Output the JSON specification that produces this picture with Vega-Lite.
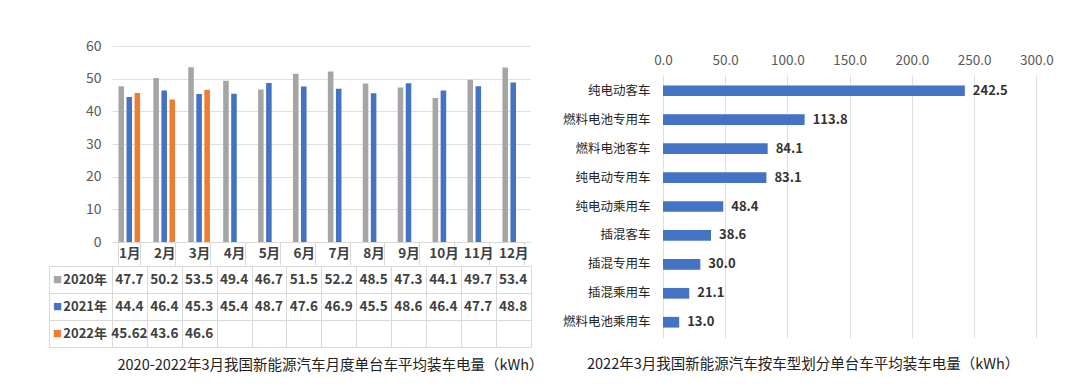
{
  "$schema": "https://vega.github.io/schema/vega-lite/v6.json",
  "background": "white",
  "padding": {"left": 48, "top": 39, "right": 0, "bottom": 0},
  "spacing": 10,
  "config": {
    "view": {"stroke": null},
    "font": "Noto Sans CJK SC",
    "axis": {"labelFont": "Noto Sans CJK SC", "titleFont": "Noto Sans CJK SC"},
    "title": {"font": "Noto Sans CJK SC"}
  },
  "datasets": {
    "monthly": [
      {"month": "1月", "year": "2020年", "value": 47.7},
      {"month": "2月", "year": "2020年", "value": 50.2},
      {"month": "3月", "year": "2020年", "value": 53.5},
      {"month": "4月", "year": "2020年", "value": 49.4},
      {"month": "5月", "year": "2020年", "value": 46.7},
      {"month": "6月", "year": "2020年", "value": 51.5},
      {"month": "7月", "year": "2020年", "value": 52.2},
      {"month": "8月", "year": "2020年", "value": 48.5},
      {"month": "9月", "year": "2020年", "value": 47.3},
      {"month": "10月", "year": "2020年", "value": 44.1},
      {"month": "11月", "year": "2020年", "value": 49.7},
      {"month": "12月", "year": "2020年", "value": 53.4},
      {"month": "1月", "year": "2021年", "value": 44.4},
      {"month": "2月", "year": "2021年", "value": 46.4},
      {"month": "3月", "year": "2021年", "value": 45.3},
      {"month": "4月", "year": "2021年", "value": 45.4},
      {"month": "5月", "year": "2021年", "value": 48.7},
      {"month": "6月", "year": "2021年", "value": 47.6},
      {"month": "7月", "year": "2021年", "value": 46.9},
      {"month": "8月", "year": "2021年", "value": 45.5},
      {"month": "9月", "year": "2021年", "value": 48.6},
      {"month": "10月", "year": "2021年", "value": 46.4},
      {"month": "11月", "year": "2021年", "value": 47.7},
      {"month": "12月", "year": "2021年", "value": 48.8},
      {"month": "1月", "year": "2022年", "value": 45.62},
      {"month": "2月", "year": "2022年", "value": 43.6},
      {"month": "3月", "year": "2022年", "value": 46.6}
    ],
    "bytype": [
      {"type": "纯电动客车", "value": 242.5},
      {"type": "燃料电池专用车", "value": 113.8},
      {"type": "燃料电池客车", "value": 84.1},
      {"type": "纯电动专用车", "value": 83.1},
      {"type": "纯电动乘用车", "value": 48.4},
      {"type": "插混客车", "value": 38.6},
      {"type": "插混专用车", "value": 30.0},
      {"type": "插混乘用车", "value": 21.1},
      {"type": "燃料电池乘用车", "value": 13.0}
    ]
  },
  "hconcat": [
    {
      "spacing": -7.5,
      "vconcat": [
        {
          "width": 418.5,
          "height": 196,
          "data": {"name": "monthly"},
          "mark": {"type": "bar"},
          "encoding": {
            "x": {
              "field": "month", "type": "nominal",
              "sort": ["1月","2月","3月","4月","5月","6月","7月","8月","9月","10月","11月","12月"],
              "scale": {"paddingInner": 0.38, "paddingOuter": 0.185},
              "axis": {
                "title": null, "labelAngle": 0, "domain": true, "domainColor": "#D9D9D9",
                "ticks": true, "tickBand": "extent", "tickSize": 23, "tickColor": "#D9D9D9",
                "labelPadding": -18.5, "labelFontSize": 13.5, "labelFontWeight": "bold", "labelColor": "#404040",
                "minExtent": 15.5, "maxExtent": 15.5
              }
            },
            "xOffset": {
              "field": "year", "type": "nominal",
              "sort": ["2020年","2021年","2022年"],
              "scale": {"domain": ["2020年","2021年","2022年"], "paddingInner": 0.31}
            },
            "y": {
              "field": "value", "type": "quantitative",
              "scale": {"domain": [0, 60], "nice": false},
              "axis": {
                "title": null, "values": [0,10,20,30,40,50,60], "grid": true, "gridColor": "#DDE1E6",
                "domain": false, "ticks": false, "labelPadding": 11, "labelFontSize": 14,
                "labelColor": "#595959", "minExtent": 63, "maxExtent": 63
              }
            },
            "color": {
              "field": "year", "type": "nominal",
              "scale": {"domain": ["2020年","2021年","2022年"], "range": ["#A5A5A5","#4472C4","#ED7D31"]},
              "legend": null
            }
          }
        },
        {
          "width": 418.5,
          "height": 81,
          "data": {"name": "monthly"},
          "layer": [
            {
              "mark": {"type": "text", "fontSize": 13.5, "fontWeight": "bold", "color": "#404040"},
              "encoding": {
                "x": {
                  "field": "month", "type": "nominal",
                  "sort": ["1月","2月","3月","4月","5月","6月","7月","8月","9月","10月","11月","12月"],
                  "scale": {"paddingInner": 0, "paddingOuter": 0},
                  "axis": {
                    "labels": false, "ticks": false, "domain": false, "grid": true, "tickBand": "extent",
                    "gridColor": "#D9D9D9",
                    "title": "2020-2022年3月我国新能源汽车月度单台车平均装车电量（kWh）",
                    "titlePadding": 11, "titleFontSize": 14.5, "titleFontWeight": "normal", "titleColor": "#222222",
                    "titleX": 218
                  }
                },
                "y": {
                  "field": "year", "type": "nominal",
                  "sort": ["2020年","2021年","2022年"],
                  "scale": {"domain": ["2020年","2021年","2022年"], "paddingInner": 0, "paddingOuter": 0},
                  "axis": {
                    "title": null, "grid": true, "tickBand": "extent", "gridColor": "#D9D9D9",
                    "domain": false, "ticks": true, "tickSize": 63, "tickColor": "#D9D9D9",
                    "labelPadding": -57.5, "labelAlign": "right", "labelFontSize": 13, "labelFontWeight": "bold",
                    "labelColor": "#404040", "minExtent": 63, "maxExtent": 63
                  }
                },
                "text": {"field": "value", "type": "quantitative"}
              }
            },
            {
              "mark": {"type": "text", "text": ""},
              "encoding": {
                "y": {
                  "field": "year", "type": "nominal",
                  "sort": ["2020年","2021年","2022年"],
                  "axis": {
                    "orient": "left", "title": null, "offset": 63, "domain": true, "domainColor": "#D9D9D9",
                    "ticks": false, "grid": false, "labelExpr": "'■'",
                    "labelColor": {
                      "condition": [
                        {"test": "datum.value === '2020年'", "value": "#A5A5A5"},
                        {"test": "datum.value === '2021年'", "value": "#4472C4"}
                      ],
                      "value": "#ED7D31"
                    },
                    "labelFontSize": 9, "labelAlign": "left", "labelPadding": -3.5, "labelBaseline": "middle",
                    "minExtent": 0, "maxExtent": 0
                  }
                }
              }
            }
          ],
          "resolve": {"axis": {"y": "independent"}}
        }
      ]
    },
    {
      "spacing": 0,
      "vconcat": [
        {
          "width": 373.4,
          "height": 1,
          "data": {"values": [{"gap": ""}]},
          "mark": {"type": "text"},
          "encoding": {"text": {"field": "gap", "type": "nominal"}}
        },
        {
          "width": 373.4,
          "height": 263,
          "data": {"name": "bytype"},
          "title": {
            "text": "2022年3月我国新能源汽车按车型划分单台车平均装车电量（kWh）",
            "orient": "bottom", "anchor": "middle", "frame": "bounds", "offset": 20,
            "fontSize": 14.5, "fontWeight": "normal", "color": "#222222"
          },
          "encoding": {
            "y": {
              "field": "type", "type": "nominal", "sort": null,
              "scale": {"paddingInner": 0.63, "paddingOuter": 0.36},
              "axis": {
                "title": null, "domain": false, "ticks": false, "labelPadding": 13, "labelFontSize": 12.5,
                "labelColor": "#262626", "minExtent": 110, "maxExtent": 110
              }
            },
            "x": {
              "field": "value", "type": "quantitative",
              "scale": {"domain": [0, 300], "nice": false},
              "axis": {
                "orient": "top", "title": null, "values": [0,50,100,150,200,250,300], "format": ".1f",
                "grid": true, "gridColor": "#DDE1E6", "domain": false, "ticks": false, "labelPadding": 8,
                "labelFlush": false,
                "labelFontSize": 13.5, "labelColor": "#595959", "minExtent": 23, "maxExtent": 23
              }
            }
          },
          "layer": [
            {"mark": {"type": "bar", "color": "#4472C4"}},
            {
              "mark": {"type": "text", "align": "left", "dx": 8, "fontSize": 13, "fontWeight": "bold", "color": "#333333"},
              "encoding": {"text": {"field": "value", "type": "quantitative", "format": ".1f"}}
            }
          ]
        }
      ]
    }
  ]
}
